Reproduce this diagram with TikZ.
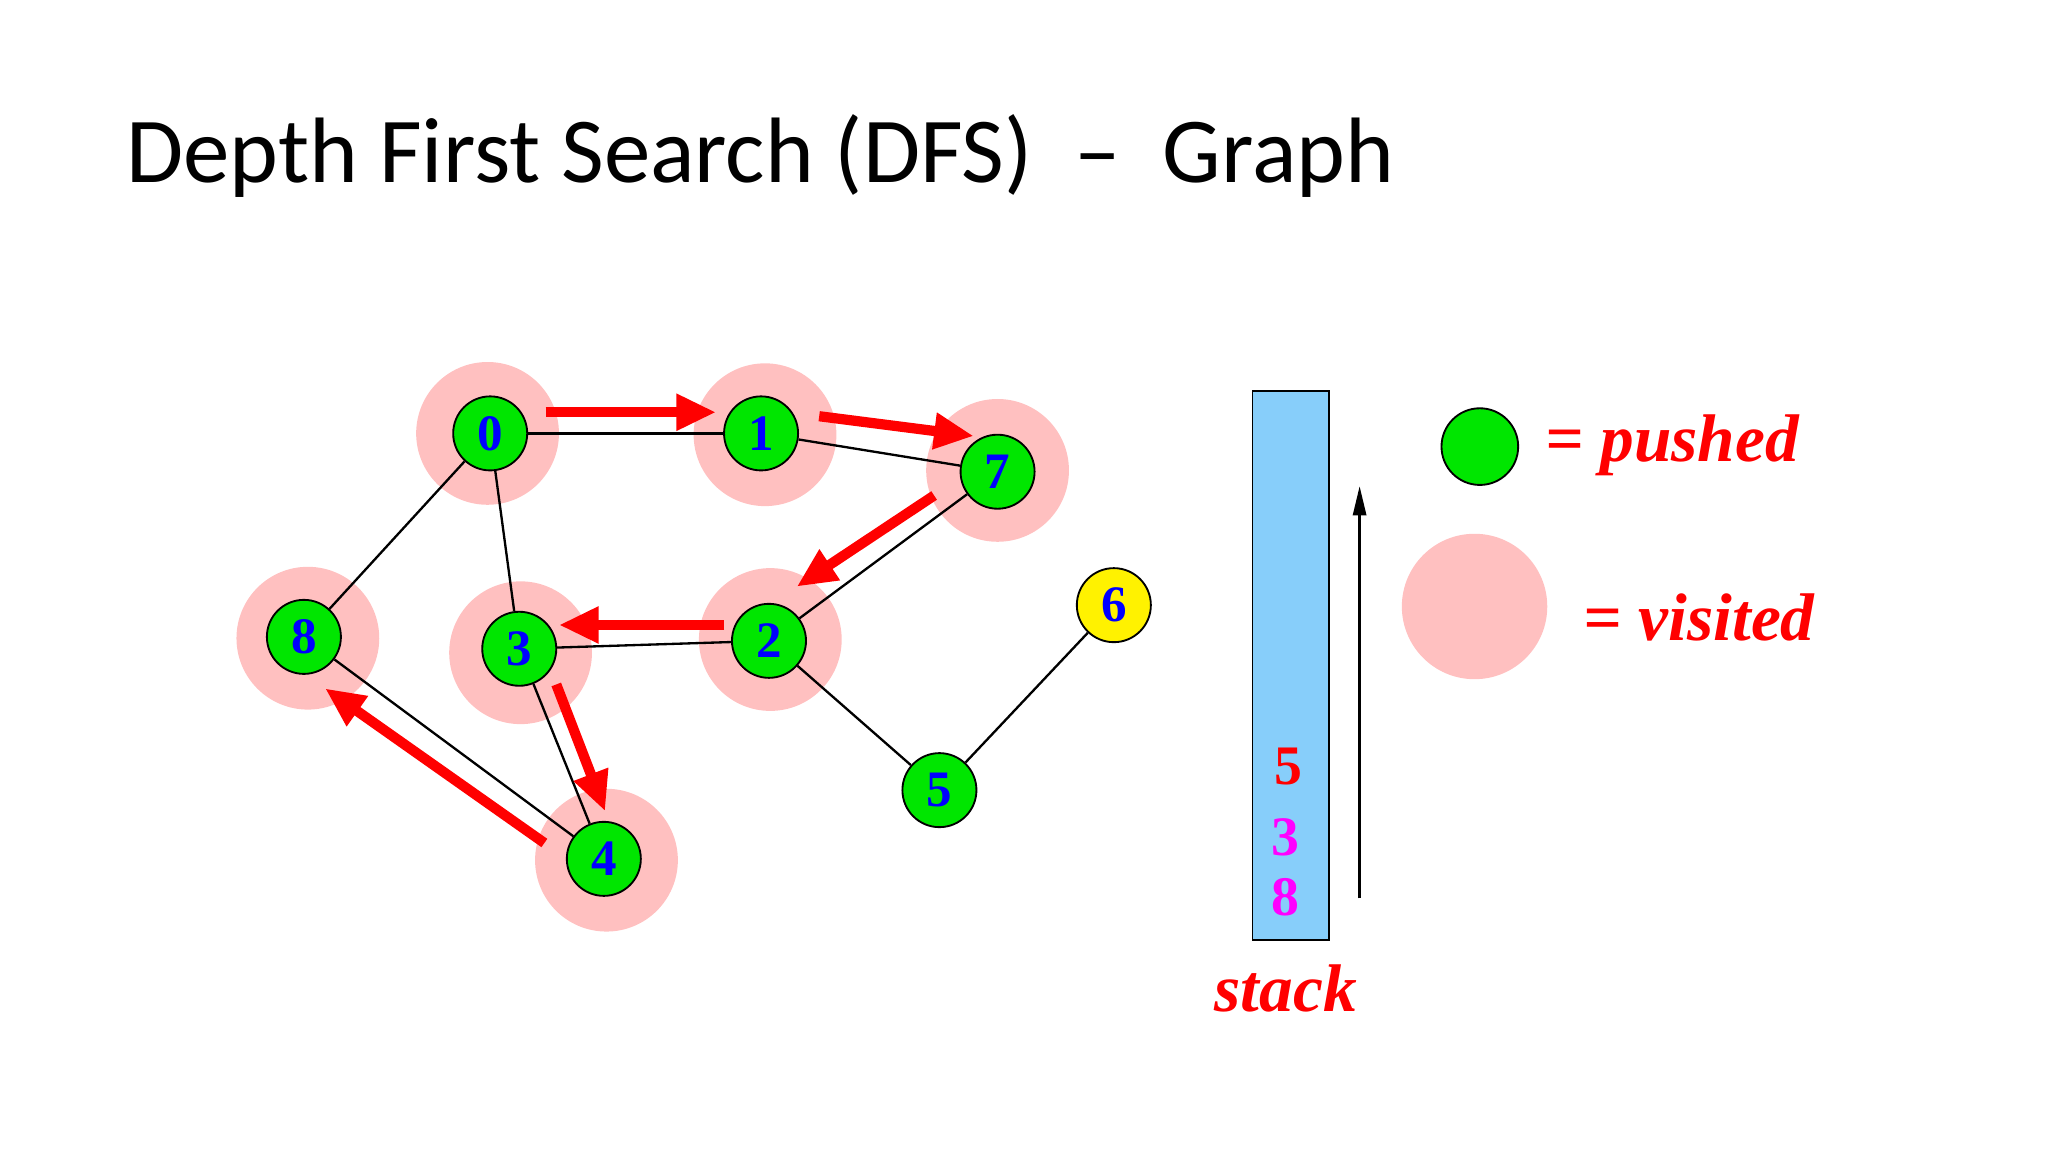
\documentclass[tikz,border=0pt]{standalone}
\usepackage{fontspec}
\setmainfont{Liberation Serif}
\newfontfamily\titlefont{Carlito}
\usetikzlibrary{arrows.meta}
\definecolor{halo}{RGB}{255,192,192}
\definecolor{gr}{RGB}{0,230,0}
\definecolor{sky}{RGB}{135,206,250}
\definecolor{mag}{RGB}{255,0,255}
\begin{document}
\begin{tikzpicture}[x=0.01cm,y=-0.01cm,
  vn/.style={circle,draw=black,fill=gr,minimum size=0.56cm,inner sep=0pt,font=\bfseries\fontsize{11}{11}\selectfont,text=blue},
  hl/.style={fill=halo},
  ed/.style={black,line width=0.5pt},
  ra/.style={red,line width=2.2pt,-{Triangle[length=0.3cm,width=0.26cm]}},
  lg/.style={text=red,font=\bfseries\itshape\fontsize{14.5}{14.5}\selectfont},
  sn/.style={font=\bfseries\fontsize{12}{12}\selectfont}]
\useasboundingbox (0,0) rectangle (1550,872);
\node[anchor=base west,inner sep=0pt,font=\titlefont\fontsize{20}{20}\selectfont] (title) at (95,138) {Depth First Search (DFS)\ \ –\ \ Graph};
\foreach \x/\y in {369/328,579/329,755/356,233/483,394/494,583/484,459/651}
  \fill[hl] (\x,\y) circle (0.54cm);
\node[vn] (n0) at (371,328) {0};
\node[vn] (n1) at (576,328) {1};
\node[vn] (n7) at (755,357) {7};
\node[vn] (n8) at (230,482) {8};
\node[vn] (n3) at (393,491) {3};
\node[vn] (n2) at (582,485) {2};
\node[vn,fill=yellow] (n6) at (843,458) {6};
\node[vn] (n5) at (711,598) {5};
\node[vn] (n4) at (457,650) {4};
\foreach \a/\b in {n0/n1,n1/n7,n0/n8,n0/n3,n7/n2,n3/n2,n2/n5,n5/n6,n3/n4,n8/n4}
  \draw[ed] (\a) -- (\b);
\coordinate (a1) at (413,312); \coordinate (b1) at (542,312);
\coordinate (a2) at (620,315); \coordinate (b2) at (737,330);
\coordinate (a3) at (707,375); \coordinate (b3) at (603,444);
\coordinate (a4) at (548,473); \coordinate (b4) at (423,473);
\coordinate (a5) at (421,518); \coordinate (b5) at (458,614);
\coordinate (a6) at (412,638); \coordinate (b6) at (246,521);
\foreach \i in {1,...,6} \draw[ra] (a\i) -- (b\i);
\node[draw=black,fill=sky,minimum width=0.58cm,minimum height=4.15cm,inner sep=0pt] (stk) at (977,503.5) {};
\node[sn,text=red] (s5) at (975,580) {5};
\node[sn,text=mag] (s3) at (973,634) {3};
\node[sn,text=mag] (s8) at (973,679) {8};
\coordinate (up0) at (1029,680); \coordinate (up1) at (1029,368);
\draw[black,line width=0.5pt,-{Triangle[length=0.22cm,width=0.1cm]}] (up0) -- (up1);
\node[lg] (stacklbl) at (973,748) {stack};
\node[circle,draw=black,fill=gr,minimum size=0.58cm,inner sep=0pt] (lp) at (1120,338) {};
\node[lg,anchor=west] (lpt) at (1157,337) {= pushed};
\fill[halo] (1116,459) circle (0.55cm);
\coordinate (lv) at (1116,459);
\node[lg,anchor=west] (lvt) at (1186,467) {= visited};
\end{tikzpicture}
\end{document}
